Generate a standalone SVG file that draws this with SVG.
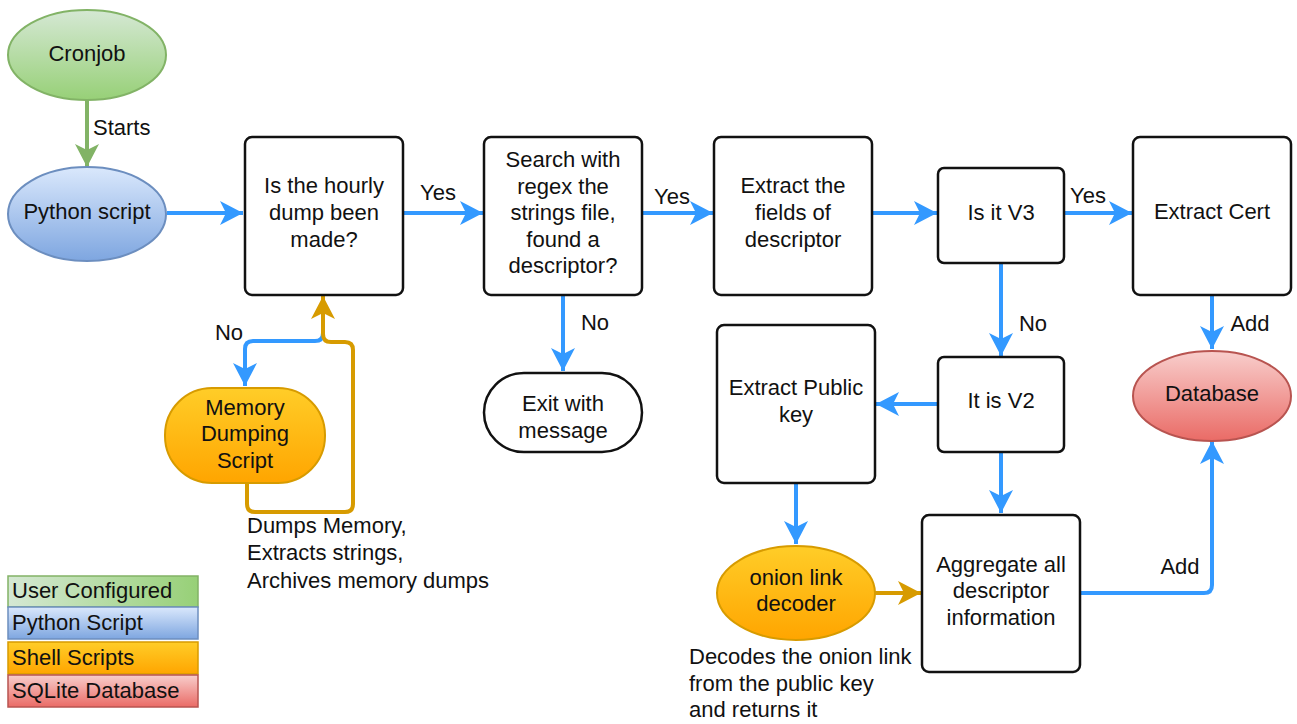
<svg xmlns="http://www.w3.org/2000/svg" width="1297" height="724" viewBox="0 0 1297 724">
<defs>
<linearGradient id="gGreen" x1="0" y1="0" x2="0" y2="1"><stop offset="0" stop-color="#d5e8d4"/><stop offset="1" stop-color="#97d077"/></linearGradient>
<linearGradient id="gGreenH" x1="0" y1="0" x2="1" y2="0"><stop offset="0" stop-color="#d5e8d4"/><stop offset="1" stop-color="#97d077"/></linearGradient>
<linearGradient id="gBlue" x1="0" y1="0" x2="0" y2="1"><stop offset="0" stop-color="#dae8fc"/><stop offset="1" stop-color="#7ea6e0"/></linearGradient>
<linearGradient id="gOrange" x1="0" y1="0" x2="0" y2="1"><stop offset="0" stop-color="#ffcd28"/><stop offset="1" stop-color="#ffa500"/></linearGradient>
<linearGradient id="gRed" x1="0" y1="0" x2="0" y2="1"><stop offset="0" stop-color="#f8cecc"/><stop offset="1" stop-color="#ea6b66"/></linearGradient>
<marker id="aBlue" markerUnits="userSpaceOnUse" markerWidth="26" markerHeight="28" viewBox="-24 -13 26 26" refX="0" refY="0" orient="auto" overflow="visible"><path d="M0,0 L-23,-12 L-17,0 L-23,12 Z" fill="#3399ff"/></marker>
<marker id="aGreen" markerUnits="userSpaceOnUse" markerWidth="26" markerHeight="28" viewBox="-24 -13 26 26" refX="0" refY="0" orient="auto" overflow="visible"><path d="M0,0 L-23,-12 L-17,0 L-23,12 Z" fill="#82b366"/></marker>
<marker id="aOrange" markerUnits="userSpaceOnUse" markerWidth="26" markerHeight="28" viewBox="-24 -13 26 26" refX="0" refY="0" orient="auto" overflow="visible"><path d="M0,0 L-23,-12 L-17,0 L-23,12 Z" fill="#d79b00"/></marker>
</defs>
<style>
text{font-family:"Liberation Sans",Arial,sans-serif;font-size:22px;fill:#111}
.c{text-anchor:middle}
.box{fill:#fff;stroke:#111;stroke-width:2.5}
.e{fill:none;stroke:#3399ff;stroke-width:4;marker-end:url(#aBlue)}
.eo{fill:none;stroke:#d79b00;stroke-width:4;marker-end:url(#aOrange)}
.eg{fill:none;stroke:#82b366;stroke-width:4;marker-end:url(#aGreen)}
</style>
<rect width="1297" height="724" fill="#fff"/>

<g id="connectors">
<path class="eg" d="M87,100 V167"/>
<path class="e" d="M167,213 H243"/>
<path class="e" d="M403,213 H483"/>
<path class="e" d="M642,213 H713"/>
<path class="e" d="M872,213 H937"/>
<path class="e" d="M1064,213 H1132"/>
<path class="e" d="M1212,295 V349"/>
<path class="e" d="M1001,263 V356"/>
<path class="e" d="M938,404 H876"/>
<path class="e" d="M1001,452 V513"/>
<path class="e" d="M796,483 V544"/>
<path class="eo" d="M875,593 H921"/>
<path class="e" d="M1080,593 H1204 Q1212,593 1212,585 V441"/>
<path class="e" d="M563,295 V371"/>
<path class="e" d="M323,295 V333 Q323,341 315,341 H253 Q245,341 245,349 V386"/>
<path class="eo" d="M247,483 V504 Q247,512 255,512 H345 Q353,512 353,504 V350 Q353,342 345,342 H331 Q323,342 323,334 V296"/>
</g>

<g id="labels">
<text x="93" y="135">Starts</text>
<text class="c" x="438" y="200">Yes</text>
<text class="c" x="672" y="204">Yes</text>
<text class="c" x="1088" y="203">Yes</text>
<text class="c" x="229" y="340">No</text>
<text class="c" x="595" y="330">No</text>
<text class="c" x="1033" y="331">No</text>
<text class="c" x="1250" y="331">Add</text>
<text class="c" x="1180" y="574">Add</text>
<text x="247" y="533">Dumps Memory,</text>
<text x="247" y="560">Extracts strings,</text>
<text x="247" y="588">Archives memory dumps</text>
<text x="689" y="664">Decodes the onion link</text>
<text x="689" y="691">from the public key</text>
<text x="689" y="717">and returns it</text>
</g>

<g id="cronjob"><ellipse cx="87" cy="55" rx="79" ry="45" fill="url(#gGreen)" stroke="#82b366" stroke-width="2"/><text class="c" x="87" y="61">Cronjob</text></g>
<g id="python"><ellipse cx="87" cy="214" rx="79" ry="47" fill="url(#gBlue)" stroke="#6c8ebf" stroke-width="2"/><text class="c" x="87" y="219">Python script</text></g>

<g id="hourly"><rect class="box" x="245" y="137" width="158" height="158" rx="7"/>
<text class="c" x="324" y="193">Is the hourly</text><text class="c" x="324" y="220">dump been</text><text class="c" x="324" y="247">made?</text></g>

<g id="search"><rect class="box" x="484" y="137" width="158" height="158" rx="7"/>
<text class="c" x="563" y="167">Search with</text><text class="c" x="563" y="194">regex the</text><text class="c" x="563" y="220">strings file,</text><text class="c" x="563" y="247">found a</text><text class="c" x="563" y="273">descriptor?</text></g>

<g id="extractfields"><rect class="box" x="714" y="137" width="158" height="158" rx="7"/>
<text class="c" x="793" y="193">Extract the</text><text class="c" x="793" y="220">fields of</text><text class="c" x="793" y="247">descriptor</text></g>

<g id="isv3"><rect class="box" x="938" y="168" width="126" height="95" rx="6"/><text class="c" x="1001" y="220">Is it V3</text></g>

<g id="extractcert"><rect class="box" x="1133" y="137" width="158" height="158" rx="7"/><text class="c" x="1212" y="219">Extract Cert</text></g>

<g id="database"><ellipse cx="1212" cy="396" rx="79" ry="45" fill="url(#gRed)" stroke="#b85450" stroke-width="2"/><text class="c" x="1212" y="401">Database</text></g>

<g id="isv2"><rect class="box" x="938" y="357" width="126" height="95" rx="6"/><text class="c" x="1001" y="408">It is V2</text></g>

<g id="pubkey"><rect class="box" x="717" y="325" width="158" height="158" rx="7"/>
<text class="c" x="796" y="395">Extract Public</text><text class="c" x="796" y="422">key</text></g>

<g id="aggregate"><rect class="box" x="922" y="515" width="158" height="157" rx="7"/>
<text class="c" x="1001" y="572">Aggregate all</text><text class="c" x="1001" y="598">descriptor</text><text class="c" x="1001" y="625">information</text></g>

<g id="onion"><ellipse cx="796" cy="593" rx="79" ry="47" fill="url(#gOrange)" stroke="#d79b00" stroke-width="2"/>
<text class="c" x="796" y="585">onion link</text><text class="c" x="796" y="611">decoder</text></g>

<g id="exit"><rect class="box" x="484" y="373" width="158" height="79" rx="40"/>
<text class="c" x="563" y="411">Exit with</text><text class="c" x="563" y="438">message</text></g>

<g id="memory"><rect x="165" y="388" width="160" height="95" rx="47" fill="url(#gOrange)" stroke="#d79b00" stroke-width="2"/>
<text class="c" x="245" y="415">Memory</text><text class="c" x="245" y="441">Dumping</text><text class="c" x="245" y="468">Script</text></g>

<g id="legend">
<rect x="8" y="576" width="190" height="31" fill="url(#gGreenH)" stroke="#82b366" stroke-width="1.5"/>
<rect x="8" y="607" width="190" height="32" fill="url(#gBlue)" stroke="#6c8ebf" stroke-width="1.5"/>
<rect x="8" y="642" width="190" height="32" fill="url(#gOrange)" stroke="#d79b00" stroke-width="1.5"/>
<rect x="8" y="675" width="190" height="32" fill="url(#gRed)" stroke="#b85450" stroke-width="1.5"/>
<text x="12" y="598">User Configured</text>
<text x="12" y="630">Python Script</text>
<text x="12" y="665">Shell Scripts</text>
<text x="12" y="698">SQLite Database</text>
</g>
</svg>
